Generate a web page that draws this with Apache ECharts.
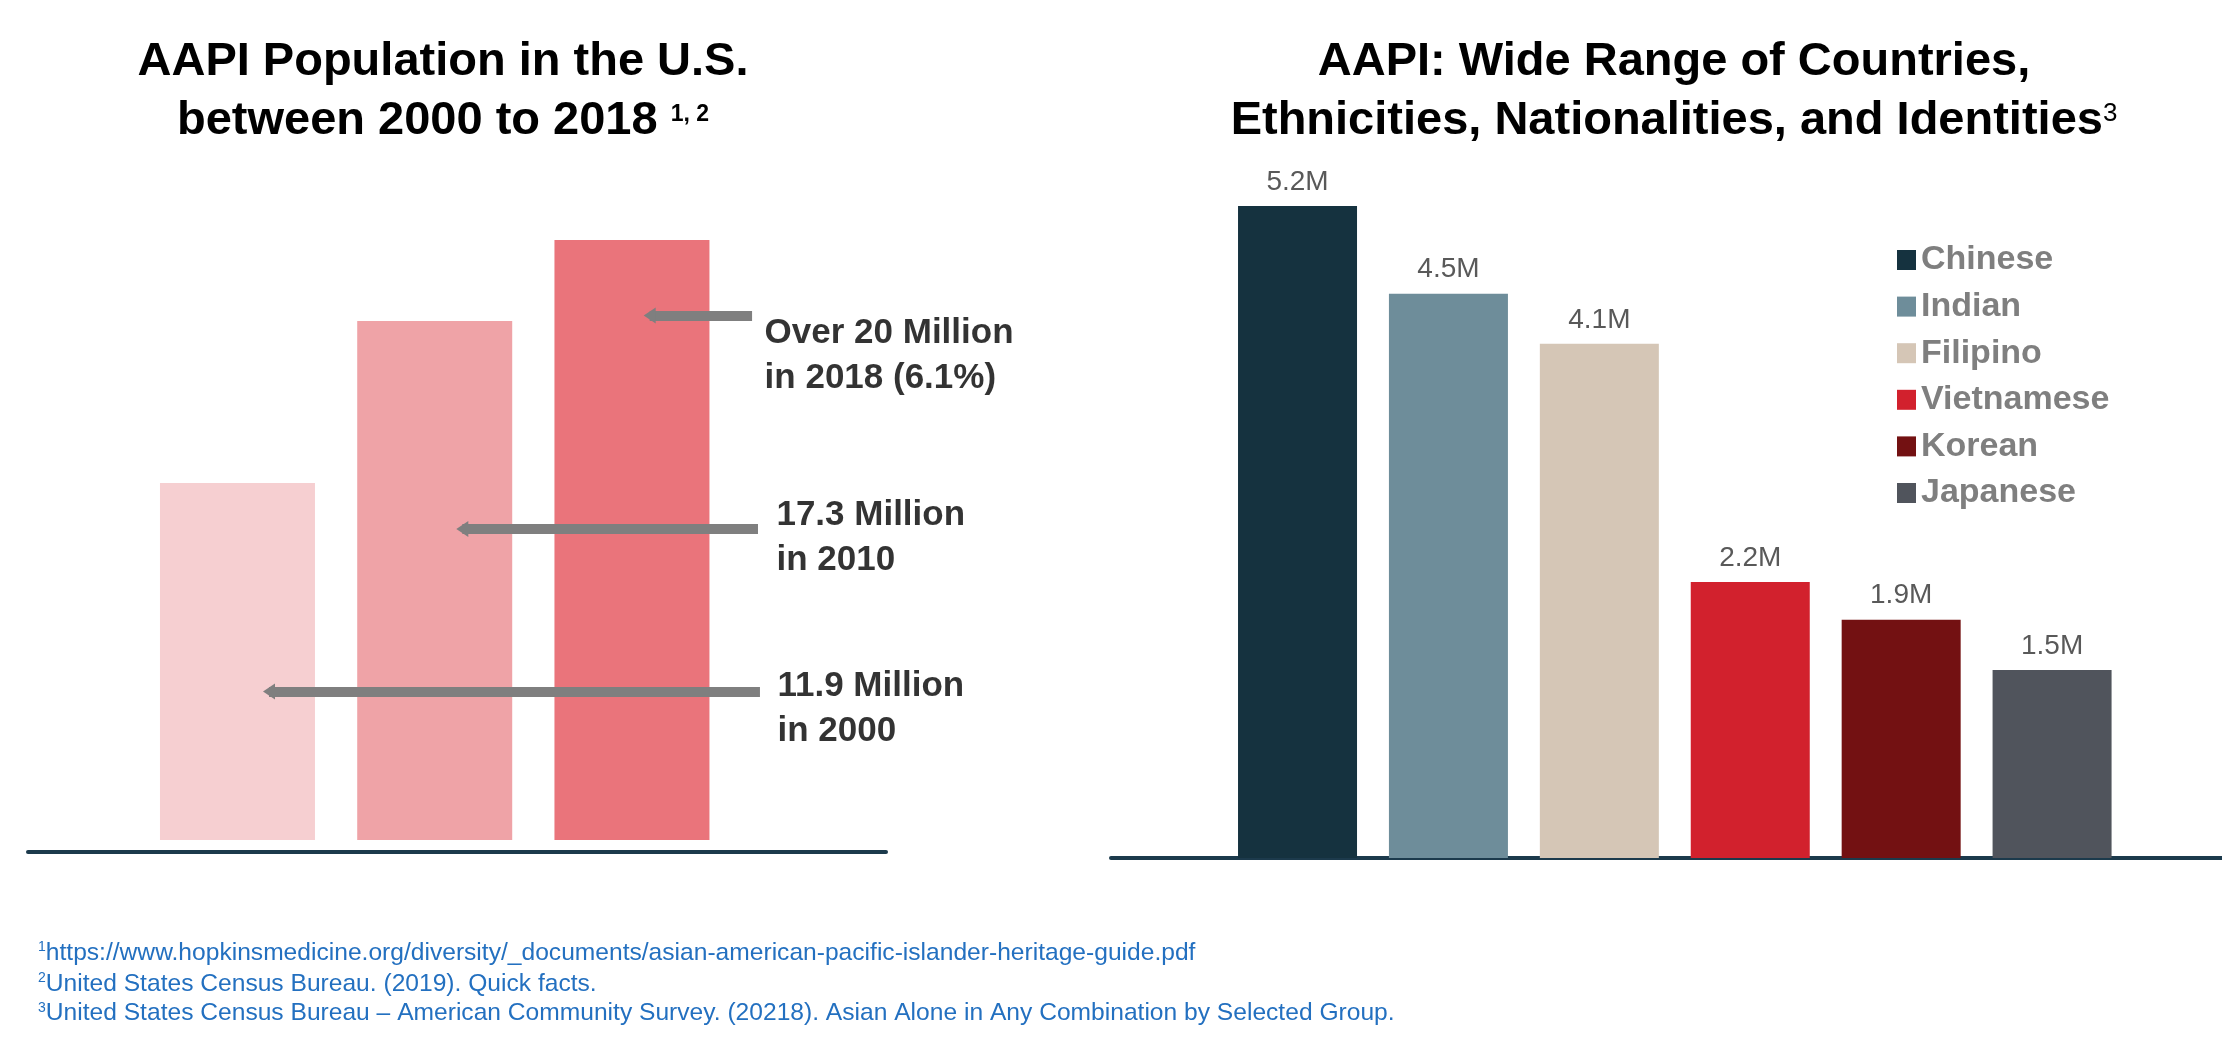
<!DOCTYPE html>
<html>
<head>
<meta charset="utf-8">
<script src="https://cdn.jsdelivr.net/npm/echarts@6/dist/echarts.min.js"></script>
<style>
html,body{margin:0;padding:0;background:#ffffff;}
#chart{width:2222px;height:1040px;}
</style>
</head>
<body>
<div id="chart"></div>
<script>
// ---- Left chart data: AAPI population (millions) ----
const popYears = ['2000', '2010', '2018'];
const popValues = [11.9, 17.3, 20.0];
const popNotes = ['11.9 Million\nin 2000', '17.3 Million\nin 2010', 'Over 20 Million\nin 2018 (6.1%)'];
// annotation arrows (x in category-index units, y in millions)
const arrowFromX = [0.16, 1.14, 2.09];
const arrowToX = [2.649, 2.639, 2.609];
const arrowY = [4.95, 10.37, 17.48];
// annotation text anchors (top-left of each note)
const noteX = [2.74, 2.735, 2.675];
const noteY = [5.88, 11.58, 17.64];

// ---- Right chart data: AAPI groups (millions) ----
const groups = ['Chinese', 'Indian', 'Filipino', 'Vietnamese', 'Korean', 'Japanese'];
const groupValues = [5.2, 4.5, 4.1, 2.2, 1.9, 1.5];

// ---- Footnotes ----
const footMarks = ['1', '2', '3'];
const footTexts = [
  'https://www.hopkinsmedicine.org/diversity/_documents/asian-american-pacific-islander-heritage-guide.pdf',
  'United States Census Bureau. (2019). Quick facts.',
  'United States Census Bureau \u2013 American Community Survey. (20218). Asian Alone in Any Combination by Selected Group.'
];

// ---- Styles ----
const F = "'Liberation Sans', Arial, Helvetica, sans-serif";
const popColors = ['#F6CFD1', '#EFA3A7', '#EA747B'];
const groupColors = ['#15323F', '#6E8D9A', '#D5C6B6', '#D2212D', '#731112', '#50545C'];
const axisColor = '#1C3A4C';
const footColor = '#2370C0';
const footTop = [940.5, 971.5, 1001];

const chart = echarts.init(document.getElementById('chart'), null, {renderer: 'canvas'});

const titles = [
  {
    text: 'AAPI Population in the U.S.\nbetween 2000 to 2018 {sup|1, 2}',
    left: 443, top: 33, textAlign: 'center', padding: 0,
    textStyle: {
      fontSize: 47, fontWeight: 'bold', color: '#000', lineHeight: 59, fontFamily: F,
      rich: { sup: { fontSize: 23, fontWeight: 'bold', color: '#000', padding: [0, 0, 14, 0], fontFamily: F } }
    }
  },
  {
    text: 'AAPI: Wide Range of Countries,\nEthnicities, Nationalities, and Identities{sup|3}',
    left: 1674, top: 33, textAlign: 'center', padding: 0,
    textStyle: {
      fontSize: 47, fontWeight: 'bold', color: '#000', lineHeight: 59, fontFamily: F,
      rich: { sup: { fontSize: 26, fontWeight: 'normal', color: '#000', padding: [0, 0, 16, 0], fontFamily: F } }
    }
  }
];
footTexts.forEach(function (t, i) {
  titles.push({
    text: '{s|' + footMarks[i] + '}{t|' + t + '}',
    left: 38, top: footTop[i], padding: 0,
    textStyle: {
      fontWeight: 'normal',
      rich: {
        s: { fontSize: 14, fontWeight: 'normal', color: footColor, verticalAlign: 'top', lineHeight: 16, fontFamily: F },
        t: { fontSize: 24.6, fontWeight: 'normal', color: footColor, lineHeight: 25, fontFamily: F }
      }
    }
  });
});

const series = [
  {
    type: 'bar', name: 'AAPI Population', xAxisIndex: 0, yAxisIndex: 0,
    barWidth: 155, silent: true,
    data: popValues.map(function (v, i) { return { name: popYears[i], value: [i, v], itemStyle: { color: popColors[i] } }; }),
    markLine: {
      silent: true, animation: false,
      symbol: ['triangle', 'none'], symbolSize: [16, 12],
      lineStyle: { color: '#7F7F7F', width: 10, type: 'solid', opacity: 1 },
      label: { show: false },
      emphasis: { disabled: true },
      data: arrowY.map(function (y, i) { return [{ coord: [arrowFromX[i], y] }, { coord: [arrowToX[i], y] }]; })
    }
  },
  {
    type: 'scatter', name: 'notes', xAxisIndex: 0, yAxisIndex: 0, silent: true,
    symbolSize: 1, itemStyle: { color: 'rgba(0,0,0,0)' },
    data: popNotes.map(function (t, i) { return { name: t, value: [noteX[i], noteY[i]] }; }),
    label: {
      show: true, position: [0, 0], align: 'left', verticalAlign: 'top',
      formatter: function (p) { return p.name; },
      fontSize: 35, fontWeight: 'bold', color: '#000000', lineHeight: 45.6, fontFamily: F
    }
  }
];
groups.forEach(function (g, i) {
  series.push({
    type: 'bar', name: g, xAxisIndex: 1, yAxisIndex: 1,
    barWidth: 119, barGap: '-100%', silent: true,
    itemStyle: { color: groupColors[i] },
    label: {
      show: true, position: 'top', distance: 10,
      formatter: function (p) { return p.value[1] + 'M'; },
      fontSize: 28, color: '#595959', fontFamily: F
    },
    data: [[i, groupValues[i]]]
  });
});

const hiddenY = { show: false, splitLine: { show: false } };
const baseX = {
  type: 'value',
  axisLine: { show: true, onZero: false, lineStyle: { color: axisColor, width: 4 } },
  axisTick: { show: false }, axisLabel: { show: false }, splitLine: { show: false }
};

chart.setOption({
  animation: false,
  backgroundColor: '#ffffff',
  textStyle: { fontFamily: F },
  title: titles,
  legend: {
    data: groups, orient: 'vertical', left: 1897, top: 236.7, padding: 0,
    itemWidth: 19, itemHeight: 20, itemGap: 0, icon: 'rect', selectedMode: false,
    textStyle: { color: '#7F7F7F', fontWeight: 'bold', fontSize: 34, fontFamily: F, lineHeight: 46.6 }
  },
  grid: [
    { left: 28, right: 1336, top: 90, bottom: 188, outerBoundsMode: 'none' },
    { left: 1111, right: 0, top: 105.6, bottom: 182, outerBoundsMode: 'none' }
  ],
  xAxis: [
    Object.assign({}, baseX, { gridIndex: 0, min: -1.062, max: 3.288 }),
    Object.assign({}, baseX, { gridIndex: 1, min: -1.236, max: 6.126 })
  ],
  yAxis: [
    Object.assign({ type: 'value', gridIndex: 0, min: -0.4, max: 25 }, hiddenY),
    Object.assign({ type: 'value', gridIndex: 1, min: 0, max: 6 }, hiddenY)
  ],
  tooltip: { show: false },
  series: series
});
</script>
</body>
</html>
